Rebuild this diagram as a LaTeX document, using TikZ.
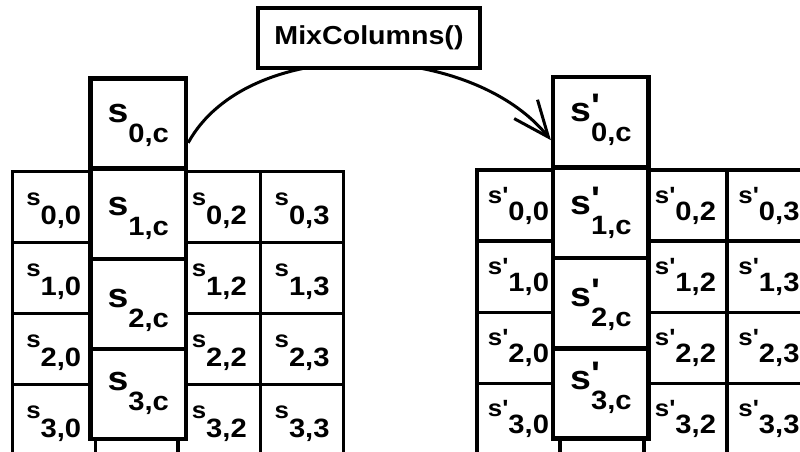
\documentclass[tikz,border=0pt]{standalone}
\usepackage{fontspec}
\usetikzlibrary{arrows.meta}
\newfontfamily\diagfont{Liberation Sans}[FakeStretch=1.1]

% state entries: small s with lowered index
\newcommand\stcell[1]{{\fontsize{23.5}{23.5}\selectfont s\raisebox{-19pt}{\fontsize{26.5}{26.5}\selectfont #1}}}
\newcommand\stcellp[1]{{\fontsize{23.5}{23.5}\selectfont s'\raisebox{-17pt}{\fontsize{26.5}{26.5}\selectfont #1}}}
% column entries: large s with lowered index
\newcommand\stcol[1]{{\fontsize{34}{34}\selectfont s\raisebox{-20pt}{\fontsize{26.5}{26.5}\selectfont #1}}}
\newcommand\stcolp[1]{{\fontsize{34}{34}\selectfont s\rlap{\raisebox{4pt}{'}}\raisebox{-20pt}{\fontsize{26.5}{26.5}\selectfont #1}}}

\tikzset{
  cellbox/.style={draw, line width=3.2pt, minimum width=82.8pt, minimum height=71pt,
    inner sep=0pt, text height=33.5pt, text depth=37.5pt},
  colbox/.style={draw, fill=white, line width=4.5pt, minimum width=95.5pt,
    minimum height=90.3pt, inner sep=0pt},
  opbox/.style={draw, fill=white, line width=4pt, minimum width=222pt,
    minimum height=60pt, inner sep=0pt, font=\diagfont\bfseries\fontsize{26}{26}\selectfont},
  arcline/.style={line width=3pt, -{Straight Barb[length=36pt,width=30pt,line width=3pt]}},
}

\begin{document}
\begin{tikzpicture}[x=1pt, y=-1pt, every node/.style={font=\diagfont\bfseries}]
\useasboundingbox (0,0) rectangle (800,452);
\clip (0,0) rectangle (800,452);

% left state array
\foreach \i in {0,...,3}{
  \foreach \j/\t in {0/{\stcell{\i,0}}, 1/{}, 2/{\stcell{\i,2}}, 3/{\stcell{\i,3}}}{
    \node[cellbox] (L\i\j) at ({12.3+82.8*(\j+0.5)}, {171.5+71*(\i+0.5)}) {\t};
  }
}
% right state array
\foreach \i in {0,...,3}{
  \foreach \j/\t in {0/{\stcellp{\i,0}}, 1/{}, 2/{\stcellp{\i,2}}, 3/{\stcellp{\i,3}}}{
    \node[cellbox] (R\i\j) at ({476.7+83.5*(\j+0.5)}, {170+71.1*(\i+0.5)}) {\t};
  }
}

% highlighted columns
\foreach \k/\h in {0/44, 1/47, 2/48.5, 3/41.5}{
  \node[colbox, text height=\h pt, text depth={90.3pt-\h pt}] (LB\k) at (138.2, {78.7+90.1*\k+45.05}) {\stcol{\k,c}};
  \node[colbox, text height=\h pt, text depth={90.3pt-\h pt}] (RB\k) at (600.9, {77+90.4*\k+45.2}) {\stcolp{\k,c}};
}

% transformation arc
\draw[arcline] ([yshift=-19pt]LB0.east) .. controls (248,34) and (470,40) .. ([yshift=-18pt]RB0.west);
\node[opbox] (mix) at (369,38) {MixColumns()};
\end{tikzpicture}
\end{document}
